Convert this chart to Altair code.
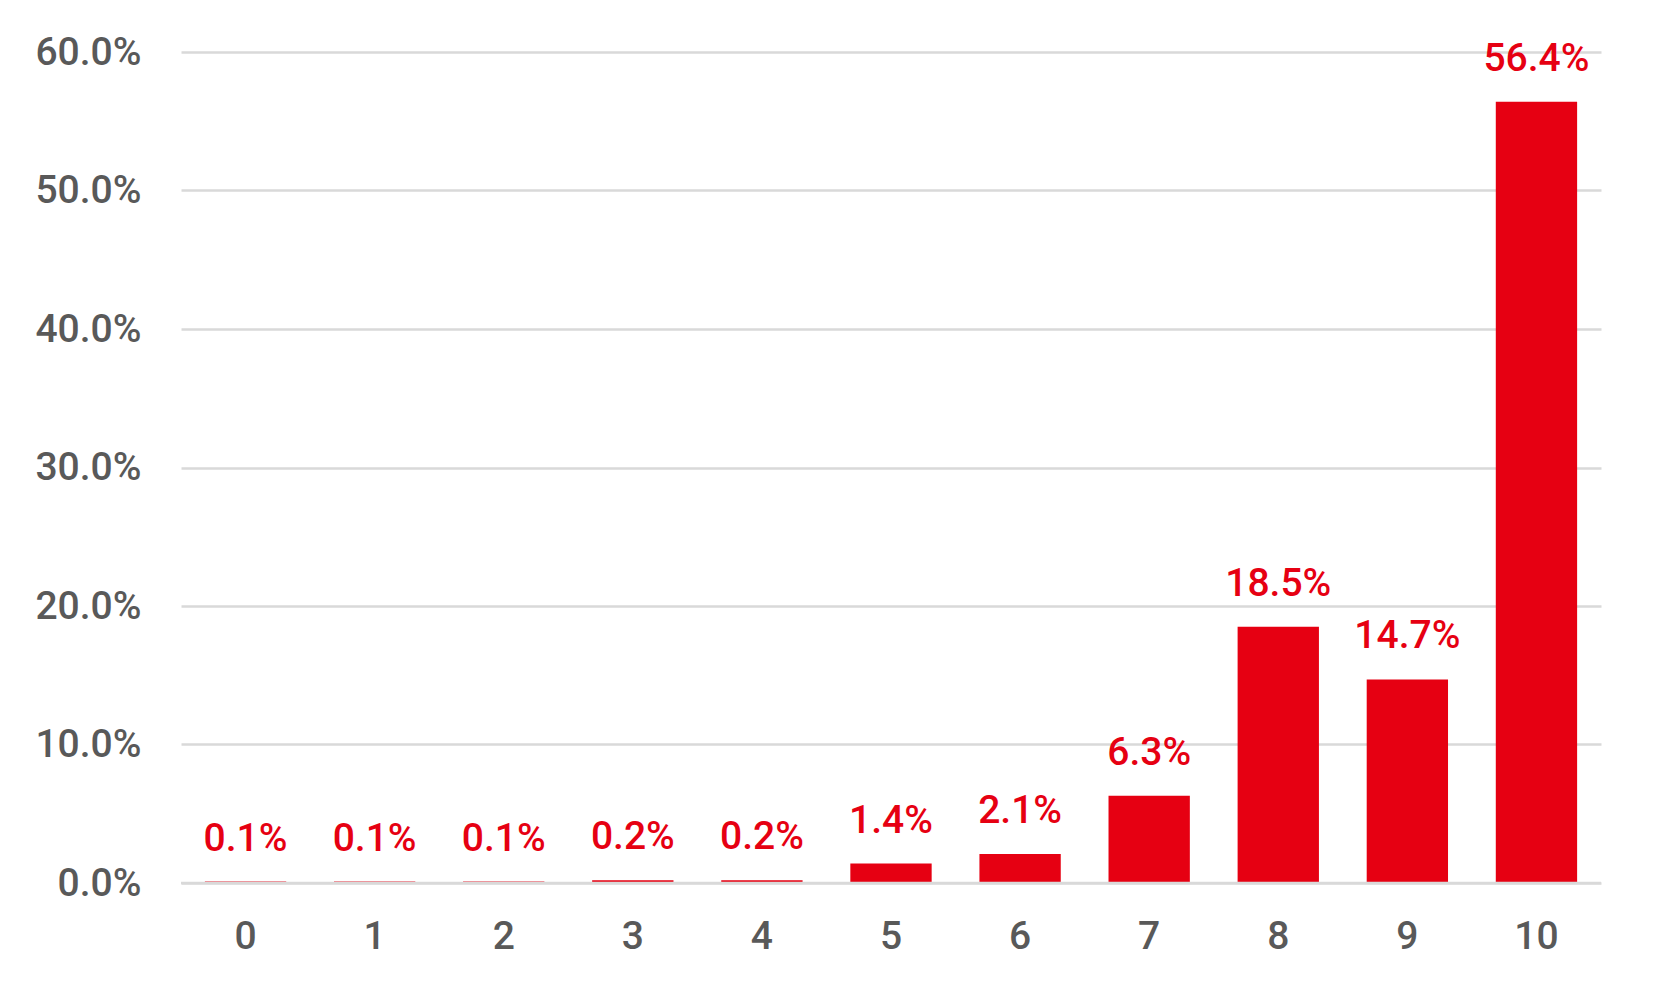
import altair as alt
import pandas as pd

scores = ["0", "1", "2", "3", "4", "5", "6", "7", "8", "9", "10"]
shares = [0.1, 0.1, 0.1, 0.2, 0.2, 1.4, 2.1, 6.3, 18.5, 14.7, 56.4]
labels = ["0.1%", "0.1%", "0.1%", "0.2%", "0.2%", "1.4%", "2.1%", "6.3%", "18.5%", "14.7%", "56.4%"]

df = pd.DataFrame({"score": scores, "share": [s / 100 for s in shares], "label": labels})

RED = "#E60012"
GRID = "#d9d9d9"
FONT = "Roboto"
FS = 39

x = alt.X(
    "score:N",
    sort=scores,
    scale=alt.Scale(paddingInner=0.37, paddingOuter=0.185),
    axis=alt.Axis(
        title=None, labelAngle=0, domain=False, ticks=False, grid=False,
        labelFontSize=FS, labelFontWeight=500, labelColor="#595959",
        labelFont=FONT, labelPadding=34,
    ),
)
y = alt.Y(
    "share:Q",
    scale=alt.Scale(domain=[0, 0.6], nice=False),
    axis=alt.Axis(
        title=None, format=".1%", values=[0, 0.1, 0.2, 0.3, 0.4, 0.5, 0.6],
        domain=False, ticks=False, grid=True, gridColor=GRID, gridWidth=2.5,
        labelFontSize=FS, labelFontWeight=500, labelColor="#595959",
        labelFont=FONT, labelPadding=40,
    ),
)

base = alt.Chart(df)
bars = base.mark_bar(color=RED).encode(x=x, y=y)
zero = alt.Chart(pd.DataFrame({"v": [0]})).mark_rule(
    color=GRID, strokeWidth=2.5
).encode(y=alt.Y("v:Q"))
text = base.mark_text(
    color=RED, font=FONT, fontSize=FS, fontWeight=500, baseline="alphabetic", dy=-31
).encode(x=x, y=y, text="label:N")

chart = (bars + zero + text).properties(
    width=1420, height=831,
    autosize=alt.AutoSizeParams(type="none"),
    padding={"left": 173, "top": 44, "right": 44, "bottom": 100},
).configure(background="white").configure_view(stroke=None)

chart.save("out.html", embed_options={"renderer": "svg", "actions": False})
